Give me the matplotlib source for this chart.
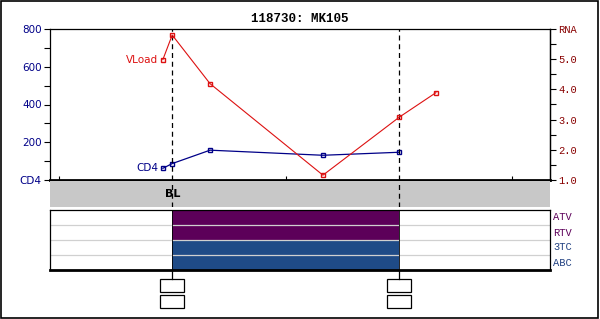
import matplotlib
matplotlib.use("Agg")
import matplotlib.pyplot as plt
from matplotlib.patches import Rectangle
from matplotlib.ticker import MultipleLocator

# data (days relative to baseline)
vl_days = [-15, 0, 61, 243, 366, 425]
vl_log = [4.99, 5.80, 4.19, 1.16, 3.08, 3.89]
cd4_days = [-15, 0, 61, 243, 366]
cd4 = [62, 87, 158, 131, 147]

drugs = ["ATV", "RTV", "3TC", "ABC"]
drug_start = [0, 0, 0, 0]
drug_stop = [366, 366, 366, 366]
drug_colors = ["#5c0059", "#5c0059", "#1f4b87", "#1f4b87"]
label_colors = ["#5c0059", "#5c0059", "#1f3f80", "#1f3f80"]

events = [0, 366]
x_ticks = [-183, 183, 548]
xlim = (-197, 609)
title = "118730: MK105"

W, H = 600, 319
DPP = (xlim[1] - xlim[0]) / 500.0   # days per pixel

def box(x0, y0, x1, y1):
    # pixel box (top-left origin) -> figure fraction
    return [x0 / W, (H - y1) / H, (x1 - x0) / W, (y1 - y0) / H]

fig = plt.figure(figsize=(6, 3.19), dpi=100)
fig.patches.append(Rectangle((0.001, 0.003), 0.996, 0.994, transform=fig.transFigure,
                             fill=False, ec="black", lw=1.2))

navy = "#000088"
red = "#dd1111"
dred = "#880000"

# ---- main chart
ax = fig.add_axes(box(50, 29, 550, 180))
ax.set_xlim(*xlim)
ax.set_ylim(0, 800)
ax.plot(cd4_days, cd4, color=navy, lw=0.9, marker="s", ms=3.5, mfc="none", mec=navy, mew=1)
ax.annotate("CD4", (cd4_days[0], cd4[0]), xytext=(-5, 0), textcoords="offset pixels",
            ha="right", va="center", color=navy, fontsize=7.5)
for e in events:
    ax.axvline(e, color="black", lw=0.9, ls=(0, (4, 3)))
ax.set_yticks([0, 200, 400, 600, 800])
ax.set_yticklabels(["CD4", "200", "400", "600", "800"], color=navy, fontsize=7.5)
ax.yaxis.set_minor_locator(MultipleLocator(100))
ax.tick_params(axis="y", which="both", length=4, width=0.8, color="black", pad=2)
ax.set_xticks(x_ticks)
ax.set_xticklabels([])
ax.tick_params(axis="x", direction="in", length=3, width=0.8)
for s in ax.spines.values():
    s.set_linewidth(0.9)
ax.spines["bottom"].set_linewidth(2)

ax2 = ax.twinx()
ax2.set_ylim(1, 6)
ax2.plot(vl_days, vl_log, color=red, lw=0.8, marker="s", ms=3.5, mfc="none", mec=red, mew=1)
ax2.annotate("VLoad", (vl_days[0], vl_log[0]), xytext=(-5, 0), textcoords="offset pixels",
             ha="right", va="center", color=red, fontsize=7.5)
ax2.set_yticks([1, 2, 3, 4, 5, 6])
ax2.set_yticklabels(["1.0", "2.0", "3.0", "4.0", "5.0", "RNA"], color=dred,
                    fontsize=7.5, family="Liberation Mono")
ax2.yaxis.set_minor_locator(MultipleLocator(0.5))
ax2.tick_params(axis="y", which="both", length=4, width=0.8, color="black", pad=2)
for s in ax2.spines.values():
    s.set_visible(False)
ax2.spines["right"].set_visible(True)
ax2.spines["right"].set_linewidth(0.9)

fig.text(0.5, (H - 19) / H, title, ha="center", va="center", fontsize=9,
         fontweight="bold", family="Liberation Mono")

# ---- grey band
axg = fig.add_axes(box(50, 181, 550, 207))
axg.set_xlim(*xlim)
axg.set_ylim(0, 1)
axg.set_facecolor("#c8c8c8")
for s in axg.spines.values():
    s.set_visible(False)
axg.set_xticks([])
axg.set_yticks([])
for e in events:
    axg.axvline(e, color="black", lw=0.9, ls=(0, (4, 3)))
axg.text(events[0], 0.5, "BL", ha="center", va="center", fontsize=8, fontweight="bold")

# ---- drug table
axd = fig.add_axes(box(50, 210, 550, 270))
axd.set_xlim(*xlim)
axd.set_ylim(len(drugs), 0)
for i, d in enumerate(drugs):
    axd.barh(i + 0.5, drug_stop[i] - drug_start[i], left=drug_start[i], height=1,
             color=drug_colors[i], edgecolor="none")
    axd.text(1.006, 1 - (i + 0.5) / len(drugs), d, transform=axd.transAxes, ha="left",
             va="center", fontsize=7.5, family="Liberation Mono", color=label_colors[i])
for k in range(1, len(drugs)):
    axd.axhline(k, color="#d0d0d0", lw=0.9)
for e in events:
    axd.axvline(e, color="black", lw=0.6)
axd.set_xticks([])
axd.set_yticks([])
for s in axd.spines.values():
    s.set_linewidth(0.9)
axd.spines["bottom"].set_linewidth(2)

# ---- event boxes
axb = fig.add_axes(box(50, 270, 550, 312))
axb.set_xlim(*xlim)
axb.set_ylim(312, 270)
axb.axis("off")
for e in events:
    axb.plot([e, e], [270, 279], color="black", lw=0.9)
    for y0 in (279, 295):
        axb.add_patch(Rectangle((e - 12 * DPP, y0), 24 * DPP, 13, fill=False,
                                ec="black", lw=0.9))

fig.savefig("out.png", dpi=100)
